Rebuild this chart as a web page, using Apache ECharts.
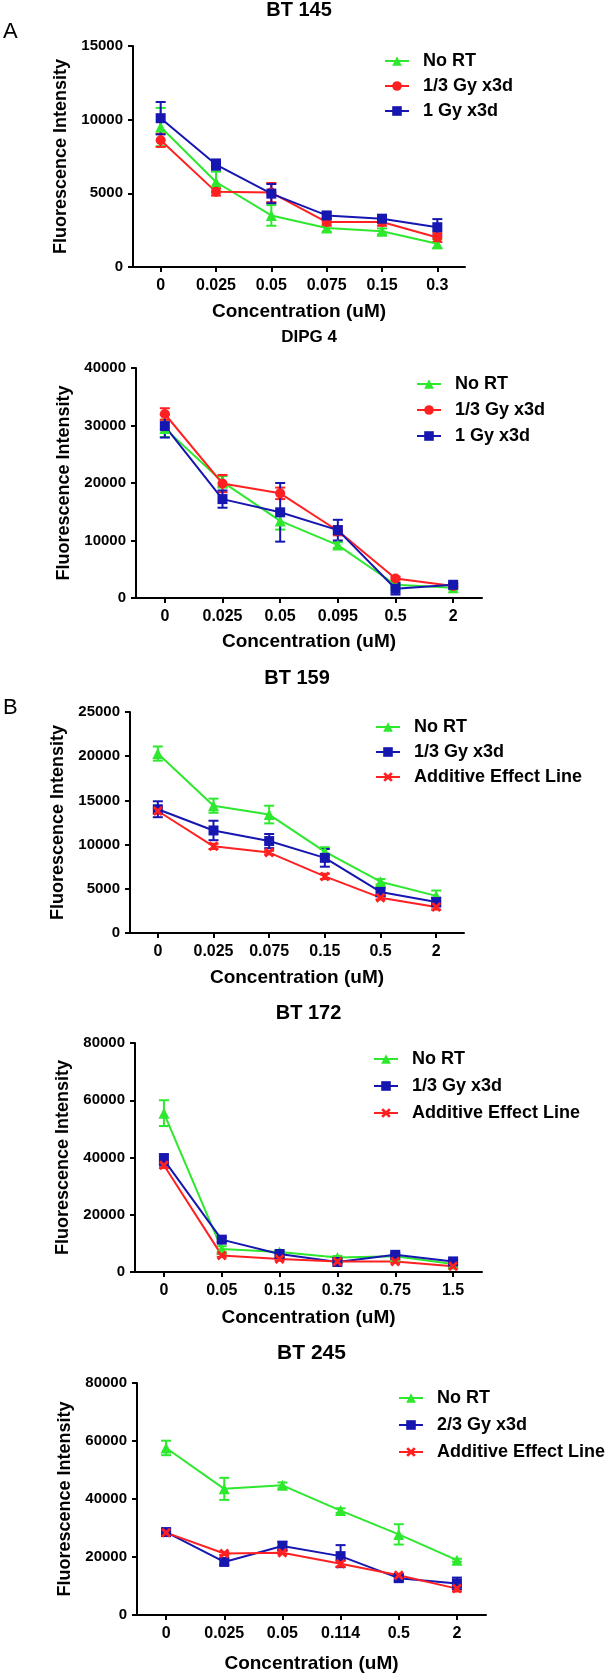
<!DOCTYPE html>
<html>
<head>
<meta charset="utf-8">
<script src="https://cdn.jsdelivr.net/npm/echarts@6/dist/echarts.min.js"></script>
<style>
html,body{margin:0;padding:0;background:#fff;}
#chart{width:616px;height:1674px;}
</style>
</head>
<body>
<div id="chart"></div>
<script>
// ---------- DATA ----------
const bt145Cats = ['0', '0.025', '0.05', '0.075', '0.15', '0.3'];
const bt145NoRT = [9500, 5770, 3500, 2650, 2420, 1580];
const bt145NoRTErr = [1300, 700, 700, 250, 200, 300];
const bt145Gy13 = [8600, 5100, 5050, 3050, 3050, 2000];
const bt145Gy13Err = [450, 250, 650, 250, 250, 300];
const bt145Gy1 = [10100, 6950, 4980, 3500, 3280, 2700];
const bt145Gy1Err = [1100, 350, 650, 200, 150, 550];

const dipg4Cats = ['0', '0.025', '0.05', '0.095', '0.5', '2'];
const dipg4NoRT = [29500, 20200, 13400, 9200, 2300, 1800];
const dipg4NoRTErr = [1500, 1000, 1500, 500, 400, 300];
const dipg4Gy13 = [32000, 19900, 18200, 11700, 3400, 2100];
const dipg4Gy13Err = [1000, 1500, 1000, 800, 300, 300];
const dipg4Gy1 = [29900, 17200, 14900, 11800, 1600, 2300];
const dipg4Gy1Err = [2000, 1500, 5100, 1800, 1000, 300];

const bt159Cats = ['0', '0.025', '0.075', '0.15', '0.5', '2'];
const bt159NoRT = [20300, 14400, 13400, 9200, 5800, 4200];
const bt159NoRTErr = [800, 800, 1000, 500, 300, 600];
const bt159Gy13 = [14000, 11600, 10400, 8500, 4650, 3500];
const bt159Gy13Err = [900, 1100, 800, 1000, 500, 500];
const bt159Additive = [13800, 9800, 9100, 6400, 4000, 2950];
const bt159AdditiveErr = [300, 300, 200, 300, 200, 300];

const bt172Cats = ['0', '0.05', '0.15', '0.32', '0.75', '1.5'];
const bt172NoRT = [55500, 8000, 7000, 5100, 5500, 2800];
const bt172NoRTErr = [4500, 1000, 500, 500, 500, 500];
const bt172Gy13 = [39200, 11300, 6300, 3500, 6000, 3700];
const bt172Gy13Err = [2000, 800, 500, 500, 500, 500];
const bt172Additive = [37300, 5800, 4500, 3700, 3700, 2000];
const bt172AdditiveErr = [1000, 500, 500, 500, 500, 500];

const bt245Cats = ['0', '0.025', '0.05', '0.114', '0.5', '2'];
const bt245NoRT = [57600, 43500, 44700, 36000, 27800, 18900];
const bt245NoRTErr = [2500, 3800, 1000, 800, 3500, 500];
const bt245Gy23 = [28600, 18300, 23800, 20300, 12700, 10900];
const bt245Gy23Err = [1000, 1000, 1500, 3800, 1000, 2000];
const bt245Additive = [28400, 21200, 21500, 17700, 13700, 9100];
const bt245AdditiveErr = [500, 500, 500, 1000, 500, 1000];

const yTicks145 = {max: 15000, interval: 5000};
const yTicksDipg = {max: 40000, interval: 10000};
const yTicks159 = {max: 25000, interval: 5000};
const yTicks172 = {max: 80000, interval: 20000};
const yTicks245 = {max: 80000, interval: 20000};

// ---------- STYLE ----------
const FONT = 'Arial, "Liberation Sans", sans-serif';
const GREEN = '#2ee82e', RED = '#ff2121', BLUE = '#1616b0';
const XPATH = 'path://M2,0 L5,3 L8,0 L10,2 L7,5 L10,8 L8,10 L5,7 L2,10 L0,8 L3,5 L0,2 Z';
const sty = {
  green: {color: GREEN, symbol: 'triangle', size: 11},
  redCircle: {color: RED, symbol: 'circle', size: 10},
  blue: {color: BLUE, symbol: 'rect', size: 10},
  redX: {color: RED, symbol: XPATH, size: 10}
};

const panels = [
  {title: 'BT 145', titleSize: 20, cats: bt145Cats, y: yTicks145,
   grid: {left: 133, top: 46, width: 332, height: 221}, titleY: 0, nameGap: 35,
   legend: {left: 384, top: 52, gap: 7},
   series: [
     {name: 'No RT', data: bt145NoRT, err: bt145NoRTErr, s: sty.green},
     {name: '1/3 Gy x3d', data: bt145Gy13, err: bt145Gy13Err, s: sty.redCircle},
     {name: '1 Gy x3d', data: bt145Gy1, err: bt145Gy1Err, s: sty.blue}
   ]},
  {title: 'DIPG 4', titleSize: 17, cats: dipg4Cats, y: yTicksDipg,
   grid: {left: 136, top: 368, width: 346, height: 230}, titleY: 328.5, nameGap: 34,
   legend: {left: 416, top: 375, gap: 8},
   series: [
     {name: 'No RT', data: dipg4NoRT, err: dipg4NoRTErr, s: sty.green},
     {name: '1/3 Gy x3d', data: dipg4Gy13, err: dipg4Gy13Err, s: sty.redCircle},
     {name: '1 Gy x3d', data: dipg4Gy1, err: dipg4Gy1Err, s: sty.blue}
   ]},
  {title: 'BT 159', titleSize: 20, cats: bt159Cats, y: yTicks159,
   grid: {left: 130, top: 712, width: 334, height: 221}, titleY: 668, nameGap: 35,
   legend: {left: 375, top: 718, gap: 7},
   series: [
     {name: 'No RT', data: bt159NoRT, err: bt159NoRTErr, s: sty.green},
     {name: '1/3 Gy x3d', data: bt159Gy13, err: bt159Gy13Err, s: sty.blue},
     {name: 'Additive Effect Line', data: bt159Additive, err: bt159AdditiveErr, s: sty.redX}
   ]},
  {title: 'BT 172', titleSize: 20, cats: bt172Cats, y: yTicks172,
   grid: {left: 135, top: 1043, width: 347, height: 229}, titleY: 1003, nameGap: 36,
   legend: {left: 373, top: 1050, gap: 9},
   series: [
     {name: 'No RT', data: bt172NoRT, err: bt172NoRTErr, s: sty.green},
     {name: '1/3 Gy x3d', data: bt172Gy13, err: bt172Gy13Err, s: sty.blue},
     {name: 'Additive Effect Line', data: bt172Additive, err: bt172AdditiveErr, s: sty.redX}
   ]},
  {title: 'BT 245', titleSize: 21, cats: bt245Cats, y: yTicks245,
   grid: {left: 137, top: 1383, width: 349, height: 233}, titleY: 1342.5, nameGap: 39,
   legend: {left: 398, top: 1389, gap: 9},
   series: [
     {name: 'No RT', data: bt245NoRT, err: bt245NoRTErr, s: sty.green},
     {name: '2/3 Gy x3d', data: bt245Gy23, err: bt245Gy23Err, s: sty.blue},
     {name: 'Additive Effect Line', data: bt245Additive, err: bt245AdditiveErr, s: sty.redX}
   ]}
];

// ---------- BUILD OPTION ----------
const option = {
  animation: false,
  backgroundColor: '#fff',
  title: [], grid: [], xAxis: [], yAxis: [], legend: [], series: []
};

option.title.push({text: 'A', left: 3, top: 21, padding: 0, textStyle: {fontFamily: FONT, fontSize: 22, fontWeight: 'normal', color: '#000'}});
option.title.push({text: 'B', left: 3, top: 697, padding: 0, textStyle: {fontFamily: FONT, fontSize: 22, fontWeight: 'normal', color: '#000'}});

function errRender(color) {
  return function (params, api) {
    const i = api.value(0), m = api.value(1), e = api.value(2);
    const top = api.coord([i, m + e]);
    const bot = api.coord([i, Math.max(0, m - e)]);
    const hw = 5;
    const st = {stroke: color, lineWidth: 2};
    return {type: 'group', children: [
      {type: 'line', shape: {x1: top[0], y1: top[1], x2: bot[0], y2: bot[1]}, style: st},
      {type: 'line', shape: {x1: top[0] - hw, y1: top[1], x2: top[0] + hw, y2: top[1]}, style: st},
      {type: 'line', shape: {x1: bot[0] - hw, y1: bot[1], x2: bot[0] + hw, y2: bot[1]}, style: st}
    ]};
  };
}

const axisLine = {show: true, lineStyle: {color: '#000', width: 2}};

panels.forEach((p, k) => {
  const g = p.grid;
  option.grid.push({left: g.left, top: g.top, width: g.width, height: g.height, containLabel: false});
  option.title.push({
    text: p.title, left: g.left + g.width / 2, top: p.titleY, textAlign: 'center', padding: 0,
    textStyle: {fontFamily: FONT, fontSize: p.titleSize, fontWeight: 'bold', color: '#000'}
  });
  option.xAxis.push({
    type: 'category', gridIndex: k, data: p.cats, boundaryGap: true,
    name: 'Concentration (uM)', nameLocation: 'middle', nameGap: p.nameGap,
    nameTextStyle: {fontFamily: FONT, fontSize: 19, fontWeight: 'bold', color: '#000'},
    axisLine: axisLine,
    axisTick: {show: true, alignWithLabel: true, length: 5, lineStyle: {color: '#000', width: 2}},
    axisLabel: {fontFamily: FONT, fontSize: 16, fontWeight: 'bold', color: '#000', margin: 11, interval: 0},
    splitLine: {show: false}
  });
  option.yAxis.push({
    type: 'value', gridIndex: k, min: 0, max: p.y.max, interval: p.y.interval,
    name: 'Fluorescence Intensity', nameLocation: 'middle', nameGap: 62,
    nameTextStyle: {fontFamily: FONT, fontSize: 18, fontWeight: 'bold', color: '#000'},
    axisLine: axisLine,
    axisTick: {show: true, length: 5, lineStyle: {color: '#000', width: 2}},
    axisLabel: {fontFamily: FONT, fontSize: 15, fontWeight: 'bold', color: '#000', margin: 10,
                formatter: v => String(v)},
    splitLine: {show: false}
  });
  const names = [];
  p.series.forEach(s => {
    const nm = s.name + '|' + k;
    names.push(nm);
    option.series.push({
      type: 'custom', xAxisIndex: k, yAxisIndex: k, z: 2,
      renderItem: errRender(s.s.color),
      data: s.data.map((v, i) => [i, v, s.err[i]]),
      encode: {x: 0, y: 1},
      silent: true
    });
    option.series.push({
      type: 'line', name: nm, xAxisIndex: k, yAxisIndex: k, z: 3,
      data: s.data,
      symbol: s.s.symbol, symbolSize: s.s.size, showSymbol: true,
      lineStyle: {color: s.s.color, width: 2},
      itemStyle: {color: s.s.color},
      emphasis: {disabled: true}
    });
  });
  option.legend.push({
    data: names, orient: 'vertical', left: p.legend.left, top: p.legend.top, padding: 0,
    itemWidth: 24, itemHeight: 12, itemGap: p.legend.gap, selectedMode: false,
    formatter: n => n.split('|')[0],
    textStyle: {fontFamily: FONT, fontSize: 18, fontWeight: 'bold', color: '#000', padding: [0, 0, 0, 9]}
  });
});

const chart = echarts.init(document.getElementById('chart'), null, {renderer: 'canvas'});
chart.setOption(option);
</script>
</body>
</html>
